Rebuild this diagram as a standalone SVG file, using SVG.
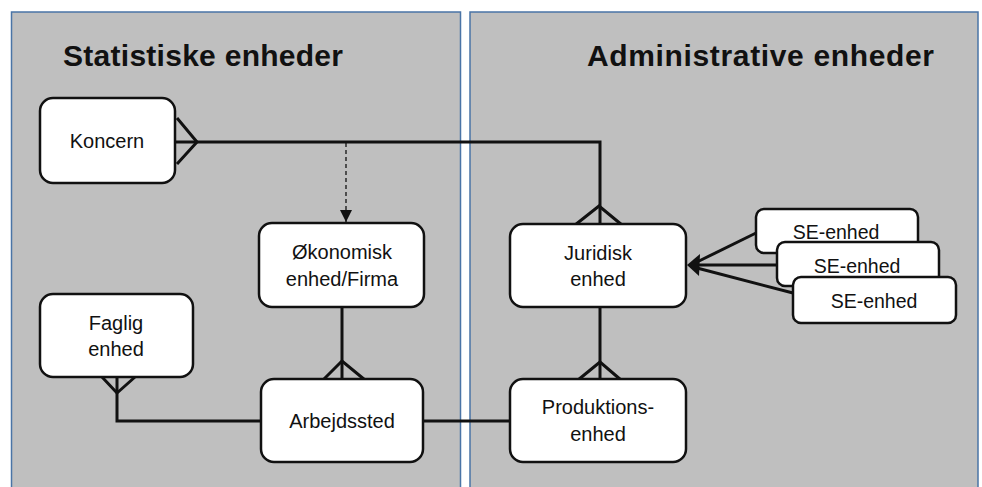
<svg xmlns="http://www.w3.org/2000/svg" width="982" height="487" viewBox="0 0 982 487">
<defs>
<style>
.panel{fill:#bfbfbf;stroke:#4a74a6;stroke-width:1.5}
.node{fill:#fff;stroke:#111;stroke-width:2.5}
.lbl{font-family:"Liberation Sans",Arial,sans-serif;font-size:20px;fill:#111;text-anchor:middle}
.se{font-size:19.5px}
.title{font-family:"Liberation Sans",Arial,sans-serif;font-size:30px;font-weight:bold;fill:#111}
.ln{fill:none;stroke:#111;stroke-width:3}
.dash{fill:none;stroke:#111;stroke-width:1.3;stroke-dasharray:4 3}
</style>
<marker id="tri" viewBox="0 0 10 10" refX="10" refY="5" markerWidth="5" markerHeight="5" orient="auto" markerUnits="strokeWidth">
<path d="M0,0 L10,5 L0,10 z" fill="#111"/>
</marker>
<marker id="tri2" viewBox="0 0 10 10" refX="10" refY="5" markerWidth="12" markerHeight="12" orient="auto" markerUnits="userSpaceOnUse">
<path d="M0,0 L10,5 L0,10 z" fill="#111"/>
</marker>
</defs>
<rect width="982" height="487" fill="#fff"/>
<g id="panel-stat">
<rect class="panel" x="11.5" y="12" width="449" height="480"/>
<text class="title" x="63" y="66" textLength="280">Statistiske enheder</text>
</g>
<g id="panel-adm">
<rect class="panel" x="470" y="12" width="508" height="480"/>
<text class="title" x="587" y="66" textLength="347">Administrative enheder</text>
</g>
<g id="connectors">
<path class="ln" d="M175,142 H600 V224"/>
<path class="ln" d="M177,118 L197,142 L177,164"/>
<path class="ln" d="M575,225 L599,206 L622,225"/>
<path class="dash" d="M346,143 V222" marker-end="url(#tri2)"/>
<path class="ln" d="M342,307 V379"/>
<path class="ln" d="M323,380 L342,361 L365,380"/>
<path class="ln" d="M117,377 V421 H261"/>
<path class="ln" d="M102,377 L117,393 L135,377"/>
<path class="ln" d="M423,421 H510"/>
<path class="ln" d="M600,307 V379"/>
<path class="ln" d="M578,380 L600,362 L621,380"/>
<path class="ln" d="M756,233 L697,262"/>
<path class="ln" d="M777,265 L697,265"/>
<path class="ln" d="M793,293 L697,268"/>
<path d="M687,265 L700,254 L699,276 z" fill="#111"/>
</g>
<g id="koncern">
<rect class="node" x="40" y="98" width="135" height="85" rx="13"/>
<text class="lbl" x="107" y="148">Koncern</text>
</g>
<g id="okonomisk">
<rect class="node" x="259" y="223" width="165" height="84" rx="13"/>
<text class="lbl" x="342" y="259">Økonomisk</text>
<text class="lbl" x="342" y="286">enhed/Firma</text>
</g>
<g id="faglig">
<rect class="node" x="40" y="294" width="153" height="83" rx="13"/>
<text class="lbl" x="116" y="330">Faglig</text>
<text class="lbl" x="116" y="356">enhed</text>
</g>
<g id="arbejdssted">
<rect class="node" x="261" y="379" width="162" height="83" rx="13"/>
<text class="lbl" x="342" y="428">Arbejdssted</text>
</g>
<g id="juridisk">
<rect class="node" x="510" y="224" width="176" height="83" rx="13"/>
<text class="lbl" x="598" y="260">Juridisk</text>
<text class="lbl" x="598" y="286">enhed</text>
</g>
<g id="produktion">
<rect class="node" x="510" y="379" width="176" height="83" rx="13"/>
<text class="lbl" x="598" y="414">Produktions-</text>
<text class="lbl" x="598" y="441">enhed</text>
</g>
<g id="se1">
<rect class="node" x="756" y="209" width="162" height="44" rx="8"/>
<text class="lbl se" x="836" y="239">SE-enhed</text>
</g>
<g id="se2">
<rect class="node" x="777" y="242" width="162" height="44" rx="8"/>
<text class="lbl se" x="857" y="273">SE-enhed</text>
</g>
<g id="se3">
<rect class="node" x="793" y="277" width="163" height="46" rx="8"/>
<text class="lbl se" x="874" y="308">SE-enhed</text>
</g>
</svg>
